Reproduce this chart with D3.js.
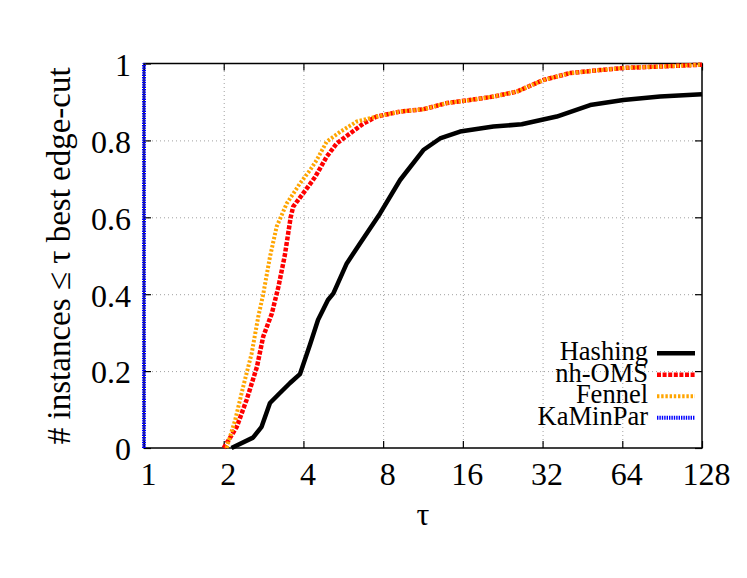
<!DOCTYPE html>
<html lang="en">
<head>
    <meta charset="UTF-8">
    <title>Performance profile: edge-cut</title>
    <style>
        body { margin: 0; background: #fff; }
    </style>
</head>
<body>
    <div id="chart"></div>
    <script src="https://d3js.org/d3.v7.min.js"></script>
    <script>
        // tick values
        const xTicks = [1, 2, 4, 8, 16, 32, 64, 128];
        const yTicks = [0, 0.2, 0.4, 0.6, 0.8, 1];

        // series (tau, fraction of instances)
        const hashingTau = [2.14, 2.58, 2.78, 2.99, 3.26, 3.56, 3.88, 4.24, 4.54, 4.95, 5.19, 5.83, 6.54, 7.79, 9.27, 11.35, 13.12, 15.62, 18.58, 20.87, 26.7, 36.2, 48.4, 64.6, 88.9, 128];
        const hashingVal = [0, 0.027, 0.055, 0.117, 0.143, 0.169, 0.192, 0.27, 0.333, 0.385, 0.402, 0.48, 0.532, 0.61, 0.697, 0.775, 0.805, 0.823, 0.831, 0.836, 0.842, 0.862, 0.892, 0.905, 0.914, 0.92];

        const ohmsTau = [2.0, 2.24, 2.44, 2.67, 2.82, 3.04, 3.22, 3.4, 3.58, 3.66, 4.12, 4.43, 4.9, 5.34, 6.0, 6.74, 7.57, 9.27, 11.35, 13.9, 17.0, 20.9, 25.6, 32.2, 40.6, 52.8, 66.5, 88.9, 128];
        const ohmsVal = [0, 0.055, 0.125, 0.211, 0.29, 0.35, 0.42, 0.5, 0.6, 0.628, 0.675, 0.705, 0.758, 0.792, 0.818, 0.844, 0.862, 0.875, 0.881, 0.897, 0.905, 0.914, 0.927, 0.957, 0.975, 0.983, 0.989, 0.992, 0.997];

        const fennelTau = [2.05, 2.21, 2.37, 2.55, 2.7, 2.82, 2.99, 3.17, 3.46, 3.88, 4.24, 4.49, 4.9, 5.5, 6.36, 7.57, 9.27, 11.35, 13.9, 17.0, 20.9, 25.6, 32.2, 40.6, 52.8, 66.5, 88.9, 128];
        const fennelVal = [0, 0.073, 0.16, 0.246, 0.341, 0.4, 0.497, 0.576, 0.636, 0.688, 0.723, 0.749, 0.797, 0.822, 0.849, 0.862, 0.875, 0.881, 0.897, 0.905, 0.914, 0.927, 0.957, 0.975, 0.983, 0.989, 0.992, 0.997];

        const kaminparTau = [1, 1];
        const kaminparVal = [0, 1];

        const seriesNames = ["Hashing", "nh-OMS", "Fennel", "KaMinPar"];

        const series = [
            { name: seriesNames[0], tau: hashingTau, val: hashingVal, color: "#000000", width: 4.5, dash: null },
            { name: seriesNames[1], tau: ohmsTau, val: ohmsVal, color: "#ff0000", width: 4.5, dash: "4,1.6" },
            { name: seriesNames[2], tau: fennelTau, val: fennelVal, color: "#ffa500", width: 4, dash: "2.4,1.8" },
            { name: seriesNames[3], tau: kaminparTau, val: kaminparVal, color: "#0000ff", width: 4, dash: "1.4,1" }
        ];

        const FONT = "'Liberation Serif', 'Times New Roman', Tinos, serif";
        const W = 747, H = 578;
        const plot = { left: 144, right: 702, top: 63.5, bottom: 448 };

        const svg = d3.select("#chart").append("svg")
            .attr("width", W).attr("height", H);

        const x = d3.scaleLog().base(2).domain([1, 128]).range([plot.left, plot.right]);
        const y = d3.scaleLinear().domain([0, 1]).range([plot.bottom, plot.top]);

        // grid
        svg.append("g")
            .attr("transform", `translate(0,${plot.bottom})`)
            .call(d3.axisBottom(x).tickValues(xTicks.slice(1, -1)).tickSize(-(plot.bottom - plot.top)).tickFormat(""))
            .call(g => g.select(".domain").remove())
            .selectAll("line").attr("class", "grid").attr("stroke", "#a0a0a0").attr("stroke-dasharray", "1,3");
        svg.append("g")
            .attr("transform", `translate(${plot.left},0)`)
            .call(d3.axisLeft(y).tickValues(yTicks.slice(1, -1)).tickSize(-(plot.right - plot.left)).tickFormat(""))
            .call(g => g.select(".domain").remove())
            .selectAll("line").attr("class", "grid").attr("stroke", "#a0a0a0").attr("stroke-dasharray", "1,3");

        // axes with inward ticks
        const xAxis = svg.append("g")
            .attr("transform", `translate(0,${plot.bottom})`)
            .call(d3.axisBottom(x).tickValues(xTicks).tickFormat(d3.format("d")).tickSizeInner(-7).tickSizeOuter(0).tickPadding(14));
        const yAxis = svg.append("g")
            .attr("transform", `translate(${plot.left},0)`)
            .call(d3.axisLeft(y).tickValues(yTicks).tickFormat(d => d === 0 || d === 1 ? d : d3.format(".1f")(d)).tickSizeInner(-7).tickSizeOuter(0).tickPadding(13));
        // mirrored ticks
        svg.append("g")
            .attr("transform", `translate(0,${plot.top})`)
            .call(d3.axisTop(x).tickValues(xTicks).tickFormat("").tickSizeInner(-7).tickSizeOuter(0));
        svg.append("g")
            .attr("transform", `translate(${plot.right},0)`)
            .call(d3.axisRight(y).tickValues(yTicks).tickFormat("").tickSizeInner(-7).tickSizeOuter(0));

        svg.selectAll(".domain").remove();
        svg.selectAll(".tick line:not(.grid)").attr("stroke", "#000").attr("stroke-width", 1.2);
        xAxis.attr("font-family", null).attr("font-size", null);
        yAxis.attr("font-family", null).attr("font-size", null);
        xAxis.selectAll("text").style("font-family", FONT).style("font-size", "32px").attr("fill", "#000").attr("dx", 4);
        yAxis.selectAll("text").style("font-family", FONT).style("font-size", "32px").attr("fill", "#000").attr("dy", "0.37em");

        // border
        svg.append("rect")
            .attr("x", plot.left).attr("y", plot.top)
            .attr("width", plot.right - plot.left).attr("height", plot.bottom - plot.top)
            .attr("fill", "none").attr("stroke", "#000").attr("stroke-width", 1.5);

        // lines
        const line = d3.line().x(d => x(d[0])).y(d => y(d[1]));
        series.forEach(s => {
            svg.append("path")
                .datum(s.tau.map((t, i) => [t, s.val[i]]))
                .attr("d", line)
                .attr("fill", "none")
                .attr("stroke", s.color)
                .attr("stroke-width", s.width)
                .attr("stroke-linejoin", "round")
                .attr("stroke-dasharray", s.dash);
        });

        // axis labels
        svg.append("text")
            .attr("x", (plot.left + plot.right) / 2).attr("y", 525)
            .attr("text-anchor", "middle")
            .style("font-family", FONT)
            .style("font-size", "32px")
            .text("τ");
        svg.append("text")
            .attr("transform", `translate(70,${(plot.top + plot.bottom) / 2}) rotate(-90)`)
            .attr("text-anchor", "middle")
            .style("font-family", FONT)
            .style("font-size", "33px")
            .text("# instances ≤ τ best edge-cut");

        // legend
        const legend = svg.append("g");
        series.forEach((s, i) => {
            const ly = 353.3 + i * 21.5;
            legend.append("text")
                .attr("x", 648).attr("y", ly + 7)
                .attr("text-anchor", "end")
                .style("font-family", FONT)
                .style("font-size", "26.5px")
                .text(s.name);
            legend.append("line")
                .attr("x1", 657).attr("x2", 695)
                .attr("y1", ly).attr("y2", ly)
                .attr("stroke", s.color)
                .attr("stroke-width", s.width)
                .attr("stroke-dasharray", s.dash);
        });
    </script>
</body>
</html>
